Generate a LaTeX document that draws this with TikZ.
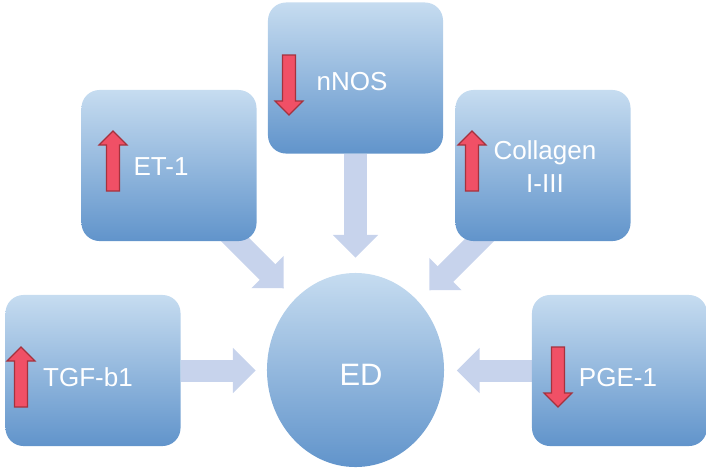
\documentclass[tikz,border=0pt]{standalone}
\usepackage{fontspec}
\setmainfont{Liberation Sans}
\usetikzlibrary{arrows.meta,positioning,shapes.geometric,backgrounds}

\definecolor{boxtop}{RGB}{198,220,240}
\definecolor{boxbot}{RGB}{97,148,203}
\definecolor{flowblue}{RGB}{199,211,236}
\definecolor{markred}{RGB}{240,80,102}
\definecolor{markline}{RGB}{165,50,62}

\begin{document}
\begin{tikzpicture}[
    x=0.025cm,y=-0.025cm,
    factor/.style={rounded corners=0.45cm, top color=boxtop, bottom color=boxbot,
                   minimum width=4.375cm, minimum height=3.775cm, inner sep=0pt},
    outcome/.style={ellipse, top color=boxtop, bottom color=boxbot, inner sep=0pt,
                    minimum width=4.425cm, minimum height=4.85cm},
    tag/.style={text=white, align=center, inner sep=0pt,
                font=\fontsize{18.5}{23.5}\selectfont},
    bigtag/.style={tag, font=\fontsize{22}{26}\selectfont},
    flow/.style={-{Triangle[width=1.1cm,length=0.575cm]}, line width=0.55cm, flowblue},
    redmark/.style={fill=markred, draw=markline, line width=0.8pt, line join=miter},
    uparr/.pic={\draw[redmark] (-6.5,0) -- (-6.5,-46) -- (-14,-46) -- (0,-60)
                 -- (14,-46) -- (6.5,-46) -- (6.5,0) -- cycle;},
    downarr/.pic={\draw[redmark] (-6.5,0) -- (-6.5,46) -- (-14,46) -- (0,60)
                 -- (14,46) -- (6.5,46) -- (6.5,0) -- cycle;}
]
\useasboundingbox (0,0) rectangle (706,470);

% factors around the outcome
\node[factor] (nnos) at (355.5,78) {};
\node[factor] (et) at (169,165.5) {};
\node[factor] (col) at (543,165.5) {};
\node[factor] (tgf) at (93,370.5) {};
\node[factor] (pge) at (619.5,370.5) {};
\node[outcome] (ed) at (355.5,370) {};

% texts, a bit off centre
\node[tag] (nnostext) at ([shift={(-3.5,4)}]nnos.center) {nNOS};
\node[tag] (ettext) at ([shift={(-8,1.5)}]et.center) {ET-1};
\node[tag] (coltext) at ([shift={(2,1)}]col.center) {Collagen\\I-III};
\node[tag] (tgftext) at ([shift={(-5,6.5)}]tgf.center) {TGF-b1};
\node[tag] (pgetext) at ([shift={(-1.5,7.5)}]pge.center) {PGE-1};
\node[bigtag] (edtext) at ([shift={(5.5,5)}]ed.center) {ED};

% up / down marks
\pic at ([shift={(-56,25.5)}]et.center) {uparr};
\pic at ([shift={(-71,25.5)}]col.center) {uparr};
\pic at ([shift={(-72,36.5)}]tgf.center) {uparr};
\pic at ([shift={(-66.5,-23)}]nnos.center) {downarr};
\pic at ([shift={(-61.5,-23.5)}]pge.center) {downarr};

% arrows into ED, behind the boxes
\begin{scope}[on background layer]
\draw[flow] (nnos.south) -- ++(0,104);
\draw[flow] ([shift={(-40,-20)}]et.south east) -- ++(67,67);
\draw[flow] ([shift={(43,-20)}]col.south west) -- ++(-69,69);
\draw[flow] (tgf.east) -- ++(75,0);
\draw[flow] (pge.west) -- ++(-75,0);
\end{scope}
\end{tikzpicture}
\end{document}
